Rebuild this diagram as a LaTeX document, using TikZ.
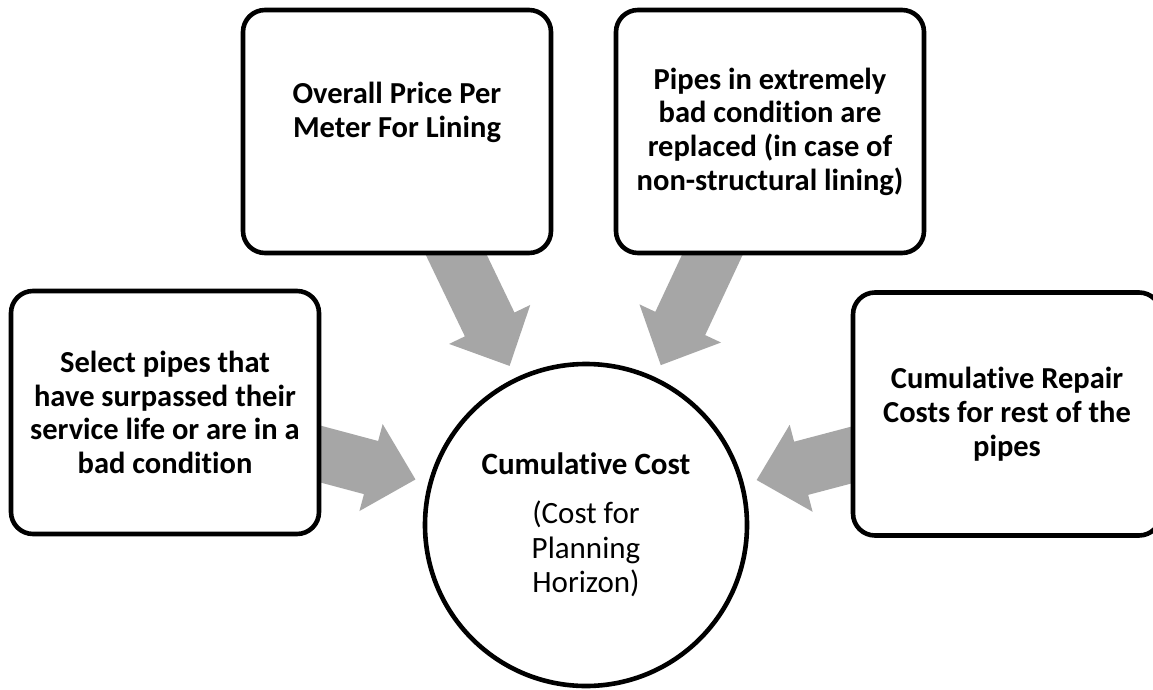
\documentclass[tikz,border=0pt]{standalone}
\usepackage{fontspec}
\setmainfont{Carlito}[Ligatures={NoCommon,NoRequired,NoContextual,NoRare}]
\usetikzlibrary{calc,backgrounds}

\definecolor{arrowgray}{RGB}{166,166,166}

\tikzset{
  stepbox/.style={draw=black, line width=4.6pt, fill=white,
    rounded corners=22pt, minimum width=308pt, minimum height=243pt,
    inner sep=0pt, align=center,
    font=\fontsize{30.5}{33.7}\selectfont\bfseries},
  hub/.style={circle, draw=black, line width=4.6pt, fill=white,
    minimum size=322pt, inner sep=0pt, align=center,
    font=\fontsize{31}{34.5}\selectfont},
  feed/.style={fill=arrowgray}
}

\begin{document}
\begin{tikzpicture}[x=1pt,y=1pt]
  \useasboundingbox (0,-690) rectangle (1153,0);

  % input boxes
  \node[stepbox] (b1) at (165,-412.5)
    {Select pipes that\\have surpassed their\\service life or are in a\\bad condition};
  \node[stepbox] (b2) at (397,-131.5)
    {Overall Price Per\\Meter For Lining\\\strut};
  \node[stepbox] (b3) at (770,-131.5)
    {Pipes in extremely\\bad condition are\\replaced (in case of\\non-structural lining)};
  \node[stepbox] (b4) at (1007,-414)
    {Cumulative Repair\\Costs for rest of the\\pipes};

  % central result
  \node[hub] (cc) at (586,-525)
    {{\bfseries Cumulative Cost}\\[15pt](Cost for\\Planning\\Horizon)};

  % block arrows from each box towards the centre
  \begin{scope}[on background layer]
    \fill[white] (0,-690) rectangle (1153,0);
    \foreach \b in {b1,b2,b3,b4}{
      \coordinate (tip) at ($(cc.center)!176.5pt!(\b.center)$);
      \coordinate (neck) at ($(tip)!46pt!(\b.center)$);
      \fill[feed] ($(\b.center)!27.5pt!90:(tip)$)
        -- ($(neck)!27.5pt!90:(tip)$)
        -- ($(neck)!45pt!90:(tip)$)
        -- (tip)
        -- ($(neck)!45pt!-90:(tip)$)
        -- ($(neck)!27.5pt!-90:(tip)$)
        -- ($(\b.center)!27.5pt!-90:(tip)$)
        -- cycle;
    }
  \end{scope}
\end{tikzpicture}
\end{document}
